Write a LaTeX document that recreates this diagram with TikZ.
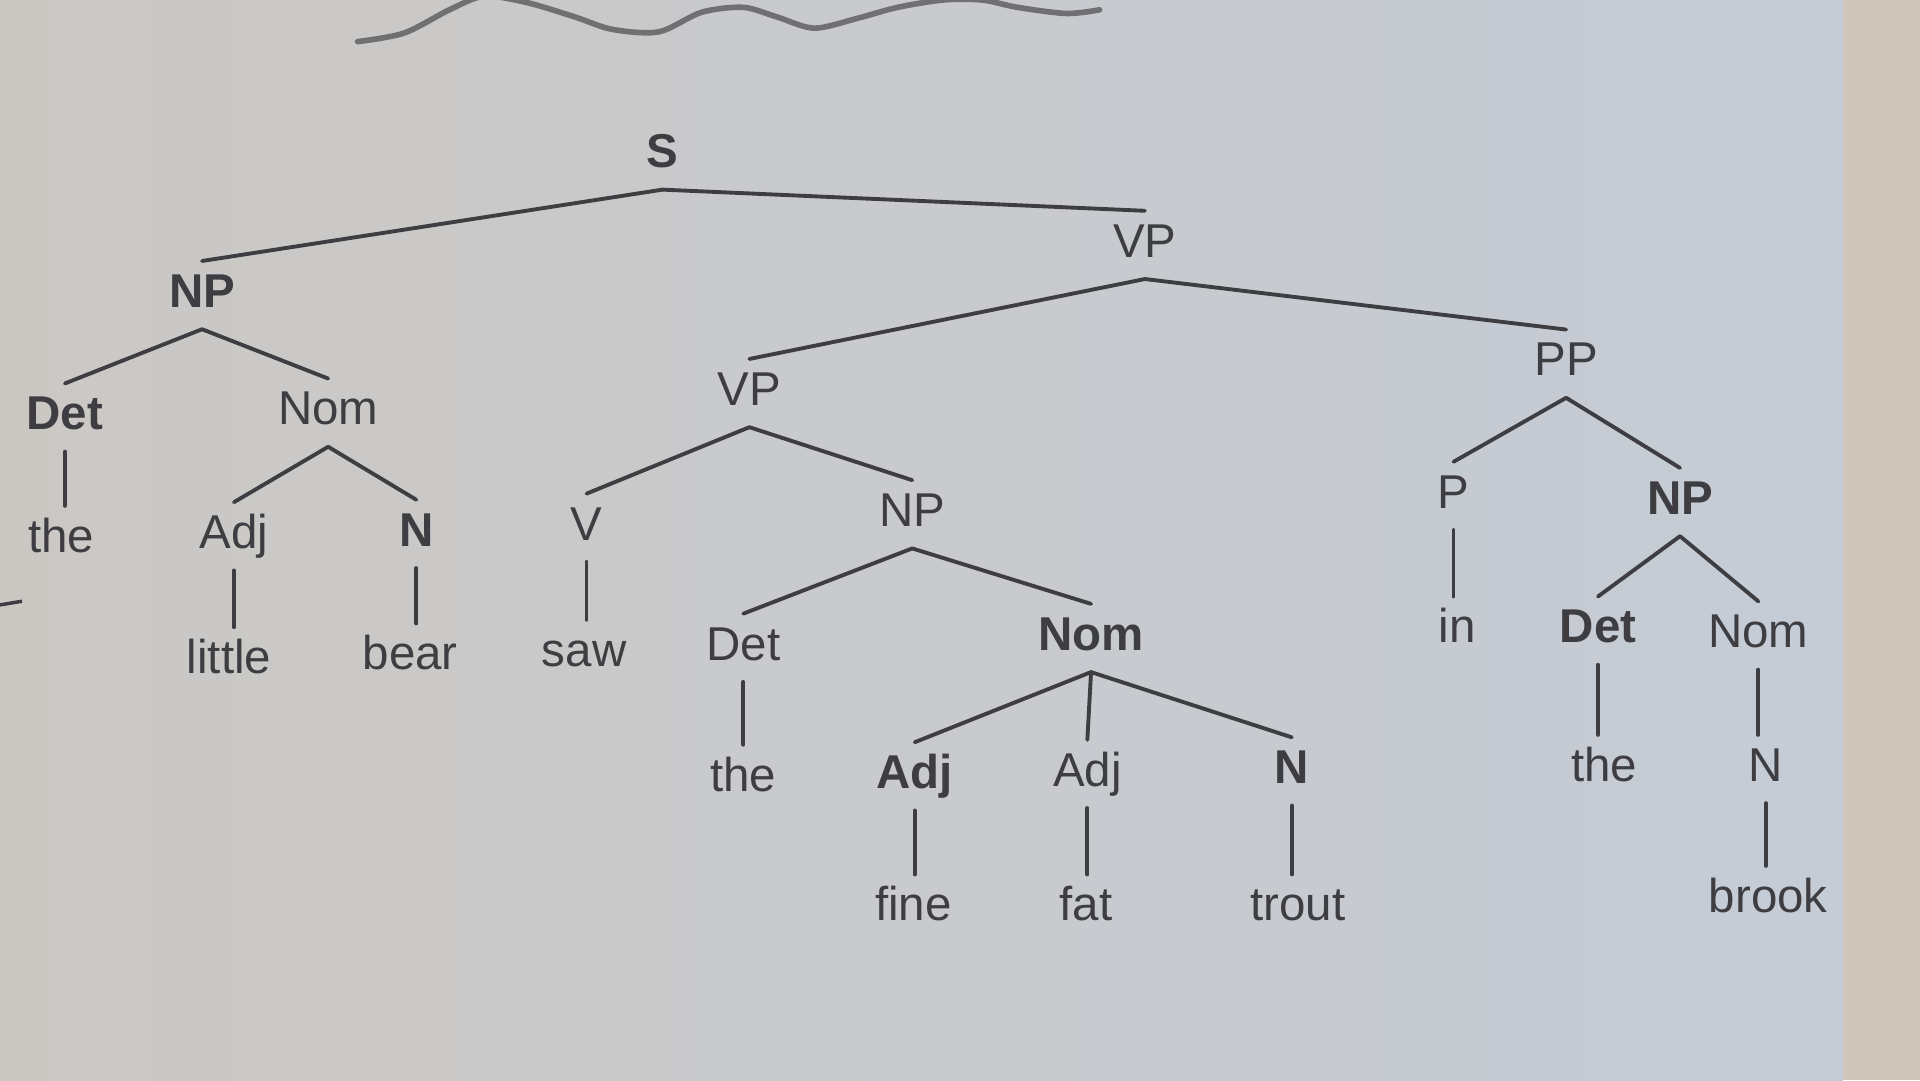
\documentclass[tikz,border=0pt]{standalone}
\usepackage{fontspec}
\setmainfont{Liberation Sans}
\definecolor{ink}{RGB}{62,62,66}
\definecolor{pencil}{RGB}{112,112,114}
\definecolor{paperl}{RGB}{203,200,196}
\definecolor{paperr}{RGB}{197,204,214}
\definecolor{paperedge}{RGB}{208,199,186}

\begin{document}
\begin{tikzpicture}[
    x=0.012245cm, y=-0.012245cm,
    font=\fontsize{13.5}{15}\selectfont,
    lbl/.style={text=ink, inner sep=3pt, text height=10pt, text depth=3pt},
    cat/.style={lbl},
    catb/.style={lbl, font=\fontsize{13.5}{15}\selectfont\bfseries},
    word/.style={lbl},
    branch/.style={draw=ink, line width=1.1pt, line cap=round}
]
  % paper
  \useasboundingbox (0,0) rectangle (1568,882);
  \shade[left color=paperl, right color=paperr] (0,0) rectangle (1505,882);
  \fill[paperedge] (1505,0) rectangle (1568,882);

  % pencil marks
  \draw[pencil, line width=1.6pt, line cap=round] plot[smooth] coordinates {
    (292,34) (330,27) (367,8) (395,-3) (430,2) (470,14) (500,24) (538,26)
    (573,10) (607,6) (635,14) (665,23) (700,15) (733,6) (770,0) (802,0)
    (831,6) (871,11) (898,8)};
  \draw[ink, line width=1pt] (0,494) -- (18,491);

  % top levels
  \node[catb] (s)   at (541,127) {S};
  \node[catb] (np1) at (165,241) {NP};
  \node[cat]  (vp1) at (935,200) {VP};

  % subject
  \node[catb] (det1) at (53,341)  {Det};
  \node[cat]  (nom1) at (268,337) {Nom};
  \node[word] (the1) at (50,441)  {the};
  \node[cat]  (adj1) at (191,438) {Adj};
  \node[catb] (n1)   at (340,436) {N};
  \node[word] (little) at (187,540) {little};
  \node[word] (bear)   at (335,537) {bear};

  % verb phrase
  \node[cat]  (vp2) at (612,321) {VP};
  \node[cat]  (pp)  at (1279,297) {PP};
  \node[cat]  (v)   at (479,431) {V};
  \node[word] (saw) at (477,534) {saw};
  \node[cat]  (np2) at (745,420) {NP};
  \node[cat]  (det2) at (607,529) {Det};
  \node[catb] (nom2) at (891,521) {Nom};
  \node[word] (the2) at (607,636) {the};
  \node[catb] (adj2) at (747,634) {Adj};
  \node[cat]  (adj3) at (888,632) {Adj};
  \node[catb] (n2)   at (1055,630) {N};
  \node[word] (fine)  at (746,742) {fine};
  \node[word] (fat)   at (887,742) {fat};
  \node[word] (trout) at (1060,742) {trout};

  % prepositional phrase
  \node[cat]  (p)    at (1187,405) {P};
  \node[catb] (np3)  at (1372,410) {NP};
  \node[word] (in)   at (1190,515) {in};
  \node[catb] (det3) at (1305,515) {Det};
  \node[cat]  (nom3) at (1436,519) {Nom};
  \node[word] (the3) at (1310,628) {the};
  \node[cat]  (n3)   at (1442,628) {N};
  \node[word] (brook) at (1444,735) {brook};

  \foreach \a/\b in {s/np1, s/vp1, np1/det1, np1/nom1,
      nom1/adj1, nom1/n1, vp1/vp2, vp1/pp, vp2/v, vp2/np2,
      np2/det2, np2/nom2, nom2/adj2, nom2/adj3, nom2/n2,
      pp/p, pp/np3, np3/det3, np3/nom3}
    \draw[branch] (\a.south) -- (\b.north);

  % unary branches stand upright
  \foreach \a/\b in {det1/the1, adj1/little, n1/bear, v/saw, det2/the2,
      adj2/fine, adj3/fat, n2/trout, p/in, det3/the3, nom3/n3, n3/brook}
    \draw[branch] (\a.south) -- (\a.south |- \b.north);
\end{tikzpicture}
\end{document}
